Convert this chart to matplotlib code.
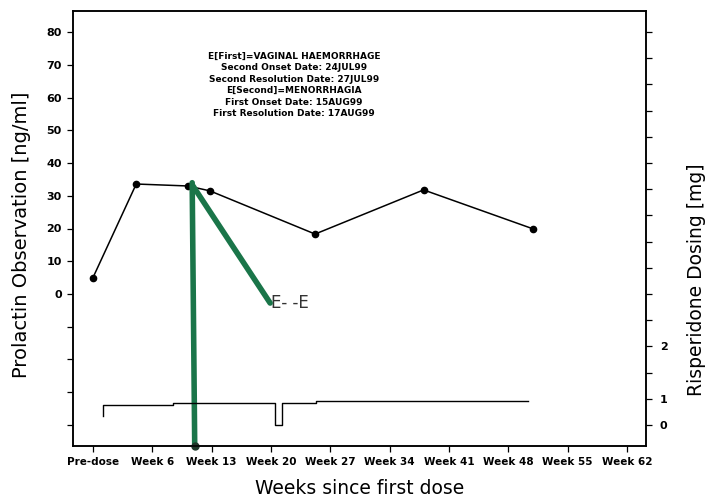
import numpy as np
import matplotlib.pyplot as plt

# prolactin observations (week, ng/ml)
prl_weeks = [-1, 4.1, 10.2, 12.8, 25.2, 38.0, 50.9]
prl_vals = [5, 33.6, 33.0, 31.5, 18.3, 31.8, 19.9]

# risperidone dosing, step function (week, axis units)
dose_weeks = [0.2, 0.2, 8.4, 20.5, 21.3, 25.3, 50.3]
dose_vals = [0.35, 0.76, 0.84, 0.0, 0.84, 0.92, 0.92]

# adverse event lines
ev_first_x = [10.7, 11.0]
ev_first_y = [34.0, -46.5]
ev_second_x = [10.8, 19.9]
ev_second_y = [33.0, -2.8]

tick_weeks = [-1, 6, 13, 20, 27, 34, 41, 48, 55, 62]
tick_labels = ['Pre-dose', 'Week 6', 'Week 13', 'Week 20', 'Week 27',
               'Week 34', 'Week 41', 'Week 48', 'Week 55', 'Week 62']

note_lines = ['E[First]=VAGINAL HAEMORRHAGE',
              'Second Onset Date: 24JUL99',
              'Second Resolution Date: 27JUL99',
              'E[Second]=MENORRHAGIA',
              'First Onset Date: 15AUG99',
              'First Resolution Date: 17AUG99']

W, H = 710, 503
fig = plt.figure(figsize=(W / 100, H / 100), dpi=100)
ax = fig.add_axes([73 / W, 1 - 446 / H, (646 - 73) / W, (446 - 11) / H])

green = '#1a7549'

ax.plot(prl_weeks, prl_vals, color='black', lw=1.1, marker='o', ms=4.5, zorder=3)
ax.plot(ev_first_x, ev_first_y, color=green, lw=4, solid_capstyle='round', zorder=4)
ax.plot(ev_first_x[-1], ev_first_y[-1], 'o', color='#1f3a2a', ms=5, zorder=5, clip_on=False)
ax.plot(ev_second_x, ev_second_y, color=green, lw=4, solid_capstyle='round', zorder=4)
ax.text(ev_second_x[-1] + 0.1, ev_second_y[-1], 'E- -E', fontsize=12, va='center', ha='left',
        color='#333333')

ax.set_xlim(-3.36, 64.24)
ax.set_ylim(-46.5, 86.5)
ax.set_xticks(tick_weeks)
ax.set_xticklabels(tick_labels, fontsize=7.5, fontweight='bold')
yt = list(range(-40, 81, 10))
ax.set_yticks(yt)
ax.set_yticklabels([str(v) if v >= 0 else '' for v in yt], fontsize=8, fontweight='bold')
ax.tick_params(axis='both', direction='out', length=4, width=0.9, pad=4)

ax2 = ax.twinx()
ax2.plot(dose_weeks, dose_vals, color='black', lw=1.0, drawstyle='steps-post')
ax2.set_ylim(-0.8, 15.8)
rt = list(range(16))
ax2.set_yticks(rt)
rlab = {0: '0', 1: '1', 3: '2'}
ax2.set_yticklabels([rlab.get(v, '') for v in rt], fontsize=8, fontweight='bold')
ax2.tick_params(axis='y', direction='out', length=4, width=0.9, pad=6)

for a in (ax, ax2):
    for s in a.spines.values():
        s.set_linewidth(1.1)

for i, line in enumerate(note_lines):
    fig.text(294 / W, 1 - (56 + i * 11.6) / H, line, ha='center', va='center',
             fontsize=6.5, fontweight='bold')

fig.text(22 / W, 1 - 235 / H, 'Prolactin Observation [ng/ml]', rotation=90,
         ha='center', va='center', fontsize=14)
fig.text(697 / W, 1 - 280 / H, 'Risperidone Dosing [mg]', rotation=90,
         ha='center', va='center', fontsize=13.5)
fig.text(360 / W, 1 - 489 / H, 'Weeks since first dose', ha='center', va='center',
         fontsize=13.5)

fig.savefig('out.png', dpi=100)
